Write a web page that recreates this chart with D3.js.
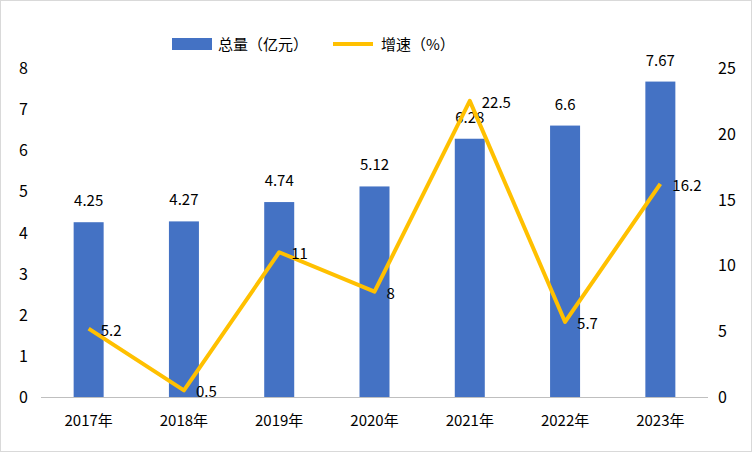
<!DOCTYPE html>
<html><head><meta charset="utf-8">
<script src="https://cdn.jsdelivr.net/npm/d3@7/dist/d3.min.js"></script>
<style>body{margin:0;background:#fff}svg{display:block}text{font-family:"Noto Sans CJK SC","Noto Sans",sans-serif;fill:#000}</style>
</head><body><svg id="c" width="752" height="452"></svg>
<script>
const categories=["2017年","2018年","2019年","2020年","2021年","2022年","2023年"];
const totals=[4.25,4.27,4.74,5.12,6.28,6.6,7.67];
const growth=[5.2,0.5,11,8,22.5,5.7,16.2];
const leftTicks=[0,1,2,3,4,5,6,7,8];
const rightTicks=[0,5,10,15,20,25];
const svg=d3.select("#c");
svg.append("rect").attr("x",0.5).attr("y",0.5).attr("width",751).attr("height",451).attr("fill","#fff").attr("stroke","#d9d9d9");
const x=d3.scaleBand().domain(categories).range([41,708]);
const yL=d3.scaleLinear().domain([0,8]).range([397,68]);
const yR=d3.scaleLinear().domain([0,25]).range([397,68]);
const bw=30;
svg.append("line").attr("x1",41).attr("x2",708).attr("y1",397.5).attr("y2",397.5).attr("stroke","#bfbfbf");
leftTicks.forEach(t=>svg.append("text").attr("x",28).attr("y",yL(t)+6).attr("text-anchor","end").attr("font-size",16).text(t));
rightTicks.forEach(t=>svg.append("text").attr("x",718).attr("y",yR(t)+6).attr("text-anchor","start").attr("font-size",16).text(t));
categories.forEach(c=>svg.append("text").attr("x",x(c)+x.bandwidth()/2).attr("y",426).attr("text-anchor","middle").attr("font-size",15).text(c));
const cx=c=>x(c)+x.bandwidth()/2;
svg.selectAll(".bar").data(totals).join("rect").attr("x",(d,i)=>cx(categories[i])-bw/2).attr("y",d=>yL(d)).attr("width",bw).attr("height",d=>397-yL(d)).attr("fill","#4472c4");
svg.selectAll(".bl").data(totals).join("text").attr("x",(d,i)=>cx(categories[i])).attr("y",d=>yL(d)-16).attr("text-anchor","middle").attr("font-size",15).text(d=>d);
const line=d3.line().x((d,i)=>cx(categories[i])).y(d=>yR(d));
svg.append("path").datum(growth).attr("d",line).attr("fill","none").attr("stroke","#ffc000").attr("stroke-width",4).attr("stroke-linejoin","round");
svg.selectAll(".gl").data(growth).join("text").attr("x",(d,i)=>cx(categories[i])+12).attr("y",d=>yR(d)+7).attr("font-size",15).text(d=>d);
// legend
svg.append("rect").attr("x",172).attr("y",38).attr("width",40).attr("height",12).attr("fill","#4472c4");
svg.append("text").attr("x",218).attr("y",50).attr("font-size",15).text("总量（亿元）");
svg.append("line").attr("x1",333).attr("x2",373).attr("y1",44).attr("y2",44).attr("stroke","#ffc000").attr("stroke-width",4);
svg.append("text").attr("x",381).attr("y",50).attr("font-size",15).text("增速（%）");
</script></body></html>
